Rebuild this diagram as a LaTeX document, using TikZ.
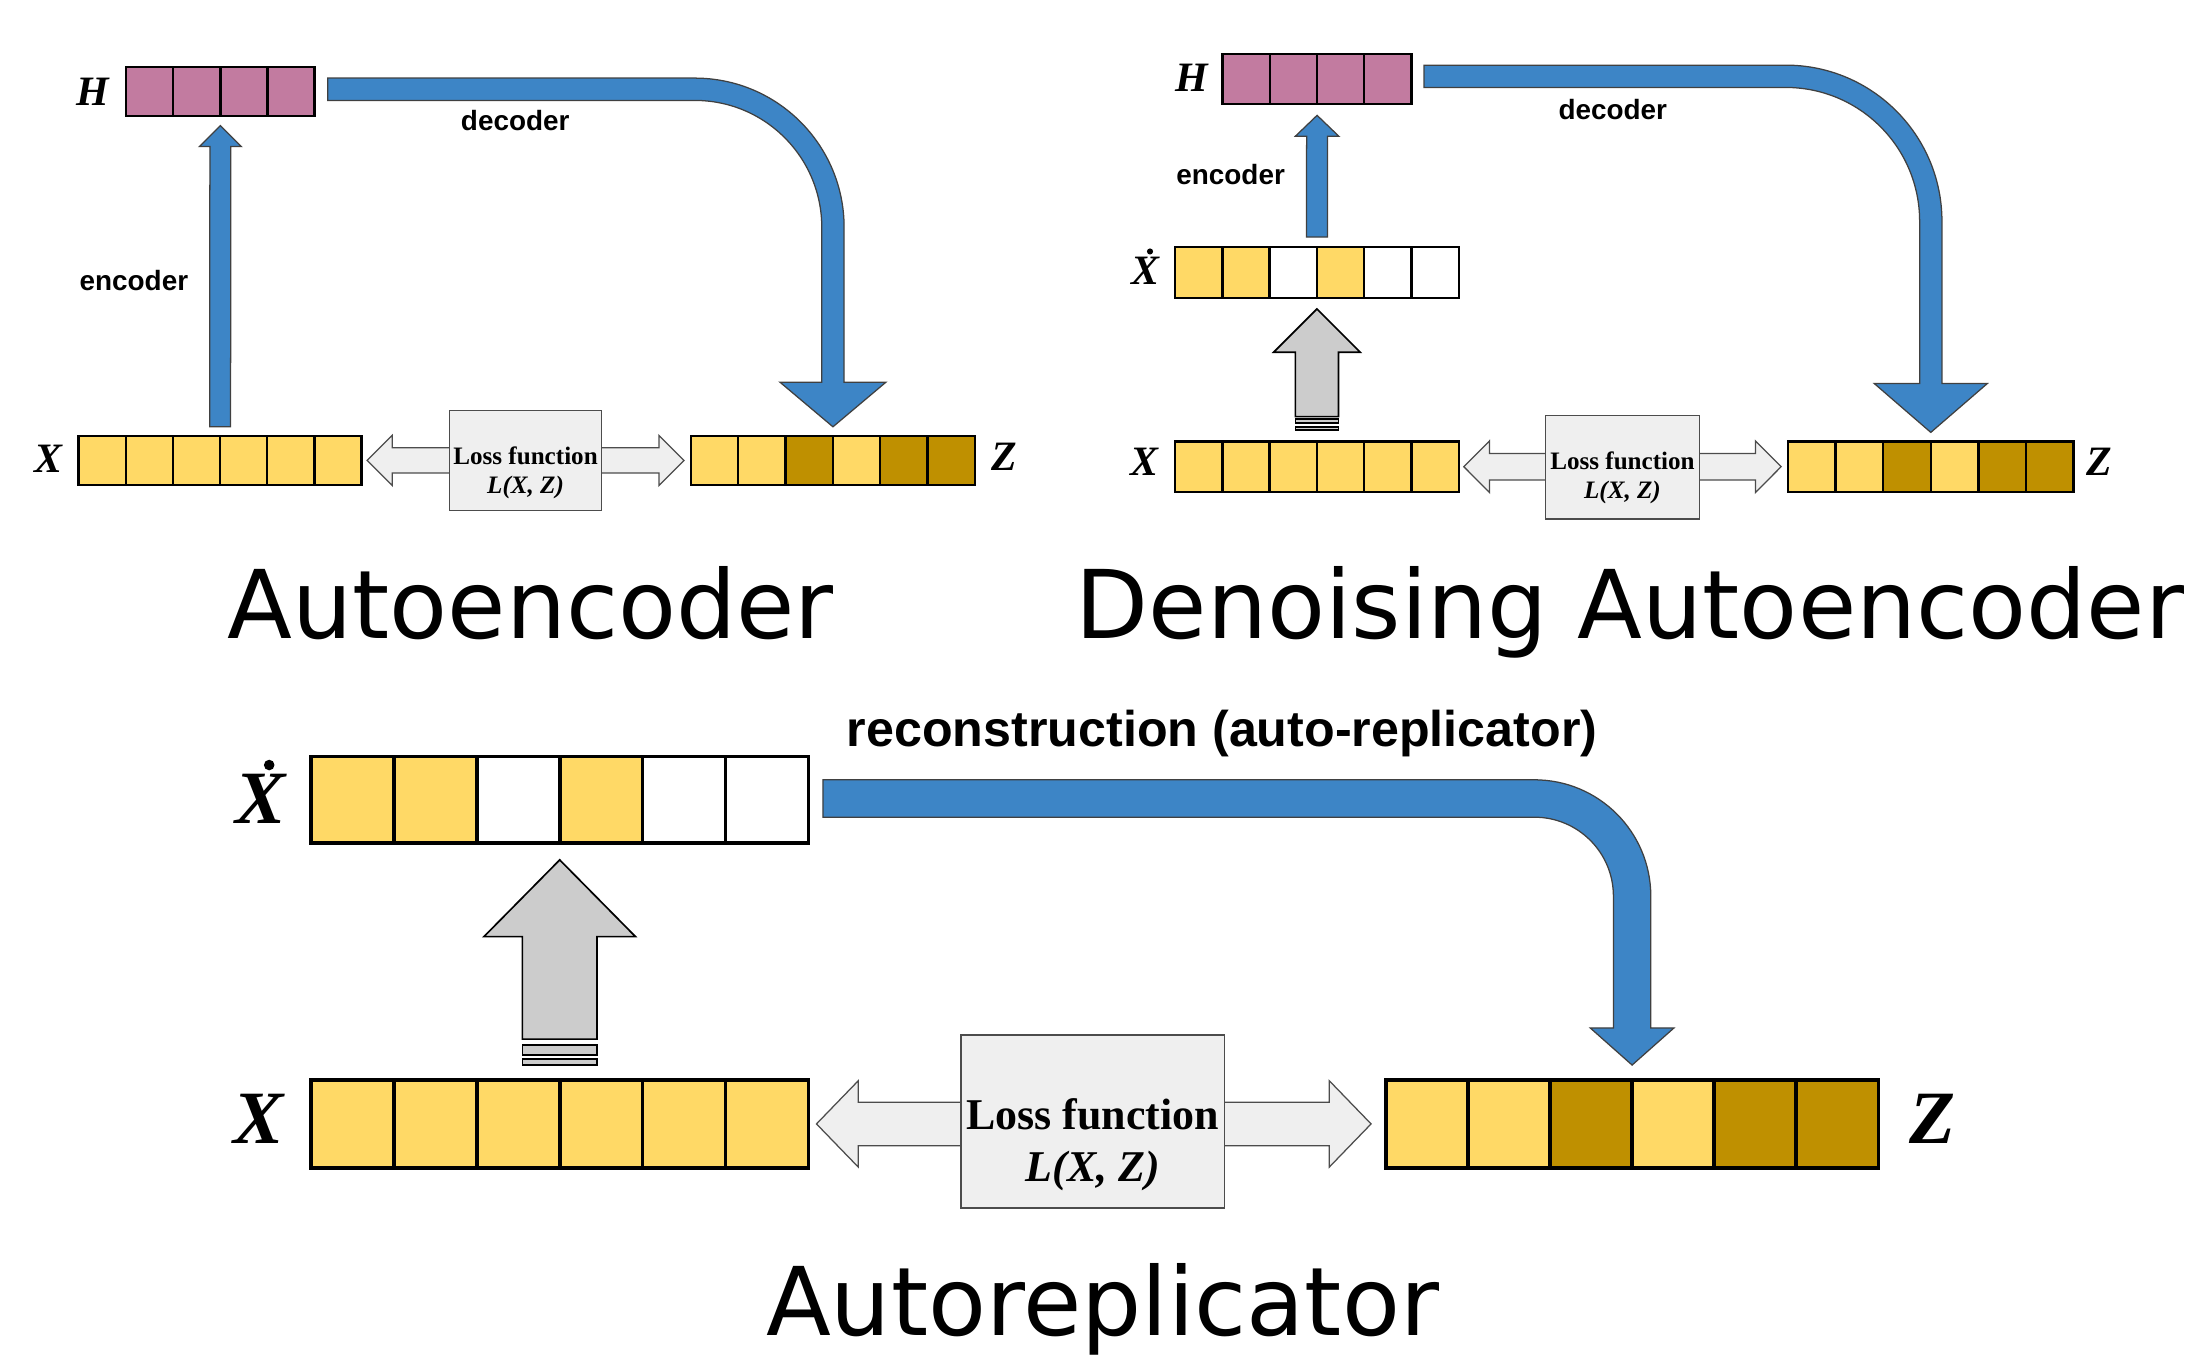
\documentclass[tikz,border=0pt]{standalone}
\usepackage{fontspec}
\setmainfont{Liberation Serif}
\newfontfamily\sanslabel{Liberation Sans}
\newfontfamily\titlefont{DejaVu Sans}
\usetikzlibrary{calc}

\definecolor{cellyellow}{HTML}{FFD966}
\definecolor{celldark}{HTML}{BF9000}
\definecolor{cellpink}{HTML}{C27BA0}
\definecolor{arrowblue}{HTML}{3D85C6}
\definecolor{arrowgray}{HTML}{CCCCCC}
\definecolor{lossgray}{HTML}{EFEFEF}

\tikzset{
  cellsmall/.style={draw=black, line width=1.7pt, inner sep=0pt, outer sep=0pt},
  cellbig/.style={draw=black, line width=2.6pt, inner sep=0pt, outer sep=0pt},
  rowframe/.style={draw=none, inner sep=0pt, outer sep=0pt},
  bluearrow/.style={fill=arrowblue, draw=black!75, line width=0.9pt},
  grayarrow/.style={fill=arrowgray, draw=black, line width=1.2pt},
  lossarrow/.style={fill=lossgray, draw=black!70, line width=0.9pt},
  lossbox/.style={fill=lossgray, draw=black!70, line width=0.9pt, inner sep=0pt, outer sep=0pt},
  textline/.style={anchor=base, inner sep=0pt, outer sep=0pt},
  titletext/.style={textline, font={\titlefont\fontsize{68}{80}\selectfont}},
  steplabel/.style={textline, font={\sanslabel\bfseries\fontsize{20}{24}\selectfont}},
  steplabelbig/.style={textline, font={\sanslabel\bfseries\fontsize{36}{42}\selectfont}},
  varsmall/.style={textline, font={\bfseries\itshape\fontsize{30}{36}\selectfont}},
  varbig/.style={textline, font={\bfseries\itshape\fontsize{54}{60}\selectfont}},
  losssmall/.style={textline, font={\bfseries\fontsize{18}{22}\selectfont}},
  lossbig/.style={textline, font={\bfseries\fontsize{31.5}{36}\selectfont}},
}

% a row of square cells; #1 style, #2 name, #3/#4 top-left corner,
% #5 cell width, #6 cell height, #7 number of cells, #8 fill colours
\newcommand\cellrow[8]{%
  \node[rowframe, anchor=north west, minimum width={#7*#5pt}, minimum height={#6pt}] (#2) at (#3,#4) {};
  \foreach \cl [count=\i] in {#8}
    \node[#1, fill=\cl, anchor=north west, minimum width={#5pt}, minimum height={#6pt}] (#2-\i) at ({#3+(\i-1)*#5},#4) {};
}

% straight block arrow pointing up; #1 style, #2 tail, #3 tip,
% #4 shaft half width, #5 head half width, #6 head length
\newcommand\blockup[6]{%
  \draw[#1] ($(#2)+(-#4,0)$) -- ($(#3)+(-#4,#6)$) -- ($(#3)+(-#5,#6)$) -- (#3)
    -- ($(#3)+(#5,#6)$) -- ($(#3)+(#4,#6)$) -- ($(#2)+(#4,0)$) -- cycle;
}

% horizontal block arrow with a head at both ends; #1 style, #2 left tip,
% #3 right tip, #4 shaft half width, #5 head half width, #6 head length
\newcommand\blockboth[6]{%
  \draw[#1] (#2) -- ($(#2)+(#6,-#5)$) -- ($(#2)+(#6,-#4)$) -- ($(#3)+(-#6,-#4)$)
    -- ($(#3)+(-#6,-#5)$) -- (#3) -- ($(#3)+(-#6,#5)$) -- ($(#3)+(-#6,#4)$)
    -- ($(#2)+(#6,#4)$) -- ($(#2)+(#6,#5)$) -- cycle;
}

% block arrow running right, then bending down onto its tip; #1 style,
% #2 tail, #3 tip, #4 shaft half width, #5 head half width,
% #6 head length, #7 bend radius of the centre line
\newcommand\blockcurve[7]{%
  \coordinate (bend) at (#3 |- #2);
  \draw[#1] ($(#2)+(0,-#4)$) -- ($(bend)+(-#7,-#4)$)
    .. controls ($(bend)+({-#7+0.5523*(#7+#4)},-#4)$) and ($(bend)+(#4,{#7-0.5523*(#7+#4)})$) .. ($(bend)+(#4,#7)$)
    -- ($(#3)+(#4,-#6)$) -- ($(#3)+(#5,-#6)$) -- (#3) -- ($(#3)+(-#5,-#6)$) -- ($(#3)+(-#4,-#6)$)
    -- ($(bend)+(-#4,#7)$)
    .. controls ($(bend)+(-#4,{#7-0.5523*(#7-#4)})$) and ($(bend)+({-#7+0.5523*(#7-#4)},#4)$) .. ($(bend)+(-#7,#4)$)
    -- ($(#2)+(0,#4)$) -- cycle;
}

\begin{document}
\begin{tikzpicture}[x=1pt, y=-1pt]
\useasboundingbox (0,0) rectangle (1568,974);

%% ---------------- Autoencoder ----------------
\cellrow{cellsmall}{aeH}{90.5}{48}{33.75}{35}{4}{cellpink,cellpink,cellpink,cellpink}
\cellrow{cellsmall}{aeX}{56.4}{312.6}{33.8}{35}{6}{cellyellow,cellyellow,cellyellow,cellyellow,cellyellow,cellyellow}
\cellrow{cellsmall}{aeZ}{495.4}{312.6}{33.93}{35}{6}{cellyellow,cellyellow,celldark,cellyellow,celldark,celldark}

\node[varsmall] (aeHlab) at (66.8,75.3) {H};
\node[varsmall] (aeXlab) at (34.5,338.6) {X};
\node[varsmall] (aeZlab) at (720,337.5) {Z};

\coordinate (aeEncTail) at ([shift={(0,-6.6)}]aeX.north);
\coordinate (aeEncTip) at ([shift={(0,7)}]aeH.south);
\blockup{bluearrow}{aeEncTail}{aeEncTip}{7.5}{15}{15}

\coordinate (aeDecTail) at ([shift={(9.5,-1.5)}]aeH.east);
\coordinate (aeDecTip) at ([shift={(0,-6.6)}]aeZ.north);
\blockcurve{bluearrow}{aeDecTail}{aeDecTip}{8}{38}{32}{99}

\node[steplabel] (aeEnc) at (96,208) {encoder};
\node[steplabel] (aeDec) at (369.4,93.7) {decoder};

\coordinate (aeLossL) at ([shift={(4,0)}]aeX.east);
\coordinate (aeLossR) at ([shift={(-5,0)}]aeZ.west);
\blockboth{lossarrow}{aeLossL}{aeLossR}{9}{18}{18}
\node[lossbox, minimum width=109pt, minimum height=72pt] (aeLoss) at ($(aeLossL)!0.5!(aeLossR)$) {};
\node[losssmall] (aeLossName) at ([shift={(0,3)}]aeLoss.center) {Loss function};
\node[losssmall, font={\bfseries\itshape\fontsize{18}{22}\selectfont}] (aeLossExpr) at ([shift={(0,24)}]aeLoss.center) {L(X, Z)};

\node[titletext] (aeTitle) at (380.5,458) {Autoencoder};

%% ---------------- Denoising Autoencoder ----------------
\cellrow{cellsmall}{daH}{876.6}{38.7}{33.85}{36}{4}{cellpink,cellpink,cellpink,cellpink}
\cellrow{cellsmall}{daXd}{842.5}{177}{33.9}{36.5}{6}{cellyellow,cellyellow,white,cellyellow,white,white}
\cellrow{cellsmall}{daX}{842.5}{316.6}{33.9}{36}{6}{cellyellow,cellyellow,cellyellow,cellyellow,cellyellow,cellyellow}
\cellrow{cellsmall}{daZ}{1282}{316.6}{34.1}{36}{6}{cellyellow,cellyellow,celldark,cellyellow,celldark,celldark}

\node[varsmall] (daHlab) at (854.7,65.7) {H};
\node[varsmall] (daXdlab) at (821,204.3) {X};
\fill (824.5,180.3) circle (2.2);
\node[varsmall] (daXlab) at (820.5,340.6) {X};
\node[varsmall] (daZlab) at (1505,340.6) {Z};

\coordinate (daEncTail) at ([shift={(0,-7)}]daXd.north);
\coordinate (daEncTip) at ([shift={(0,8)}]daH.south);
\blockup{bluearrow}{daEncTail}{daEncTip}{7.5}{15.6}{15}

\coordinate (daNoiseTail) at ([shift={(0,-17.9)}]daX.north);
\coordinate (daNoiseTip) at ([shift={(0,8)}]daXd.south);
\blockup{grayarrow}{daNoiseTail}{daNoiseTip}{15.5}{31}{31}
\draw[grayarrow] ($(daNoiseTail)+(-15.5,1.8)$) rectangle ($(daNoiseTail)+(15.5,4.8)$);
\draw[grayarrow] ($(daNoiseTail)+(-15.5,7.3)$) rectangle ($(daNoiseTail)+(15.5,9.6)$);

\coordinate (daDecTail) at ([shift={(9,-2)}]daH.east);
\coordinate (daDecTip) at ([shift={(0,-6.6)}]daZ.north);
\blockcurve{bluearrow}{daDecTail}{daDecTip}{8}{40.5}{35}{104}

\node[steplabel] (daEnc) at (882.3,132) {encoder};
\node[steplabel] (daDec) at (1156.3,85.5) {decoder};

\coordinate (daLossL) at ([shift={(3.6,0)}]daX.east);
\coordinate (daLossR) at ([shift={(-5,0)}]daZ.west);
\blockboth{lossarrow}{daLossL}{daLossR}{9.5}{18.5}{18.4}
\node[lossbox, minimum width=110pt, minimum height=74pt] (daLoss) at ([shift={(0,0.5)}]$(daLossL)!0.5!(daLossR)$) {};
\node[losssmall] (daLossName) at ([shift={(0,1.5)}]daLoss.center) {Loss function};
\node[losssmall, font={\bfseries\itshape\fontsize{18}{22}\selectfont}] (daLossExpr) at ([shift={(0,22.5)}]daLoss.center) {L(X, Z)};

\node[titletext] (daTitle) at (1168.6,458) {Denoising Autoencoder};

%% ---------------- Autoreplicator ----------------
\cellrow{cellbig}{arXd}{223}{542.5}{59.43}{62}{6}{cellyellow,cellyellow,white,cellyellow,white,white}
\cellrow{cellbig}{arX}{223}{774.3}{59.43}{63}{6}{cellyellow,cellyellow,cellyellow,cellyellow,cellyellow,cellyellow}
\cellrow{cellbig}{arZ}{993.6}{774.3}{58.85}{63}{6}{cellyellow,cellyellow,celldark,cellyellow,celldark,celldark}

\node[varbig] (arXdlab) at (186.5,590.5) {X};
\fill (193,548.5) circle (3.8);
\node[varbig] (arXlab) at (185.5,819.6) {X};
\node[varbig] (arZlab) at (1385.5,819.6) {Z};

\coordinate (arNoiseTail) at ([shift={(0,-29.3)}]arX.north);
\coordinate (arNoiseTip) at ([shift={(0,12)}]arXd.south);
\blockup{grayarrow}{arNoiseTail}{arNoiseTip}{26.75}{54.3}{55}
\draw[grayarrow] ($(arNoiseTail)+(-26.75,4.2)$) rectangle ($(arNoiseTail)+(26.75,11.4)$);
\draw[grayarrow] ($(arNoiseTail)+(-26.75,14.3)$) rectangle ($(arNoiseTail)+(26.75,18.6)$);

\coordinate (arRecTail) at ([shift={(10.4,-1)}]arXd.east);
\coordinate (arRecTip) at ([shift={(0,-10.7)}]arZ.north);
\blockcurve{bluearrow}{arRecTail}{arRecTip}{13.4}{30}{26.6}{70}

\node[steplabelbig] (arRec) at (876.2,535) {reconstruction (auto-replicator)};

\coordinate (arLossL) at ([shift={(5.8,0)}]arX.east);
\coordinate (arLossR) at ([shift={(-10.6,0)}]arZ.west);
\blockboth{lossarrow}{arLossL}{arLossR}{15.6}{31}{30}
\node[lossbox, minimum width=189pt, minimum height=124pt] (arLoss) at ([shift={(-0.7,-1.8)}]$(arLossL)!0.5!(arLossR)$) {};
\node[lossbig] (arLossName) at ([shift={(0,6)}]arLoss.center) {Loss function};
\node[lossbig, font={\bfseries\itshape\fontsize{31.5}{36}\selectfont}] (arLossExpr) at ([shift={(0,43)}]arLoss.center) {L(X, Z)};

\node[titletext] (arTitle) at (790.4,957.5) {Autoreplicator};
\end{tikzpicture}
\end{document}
